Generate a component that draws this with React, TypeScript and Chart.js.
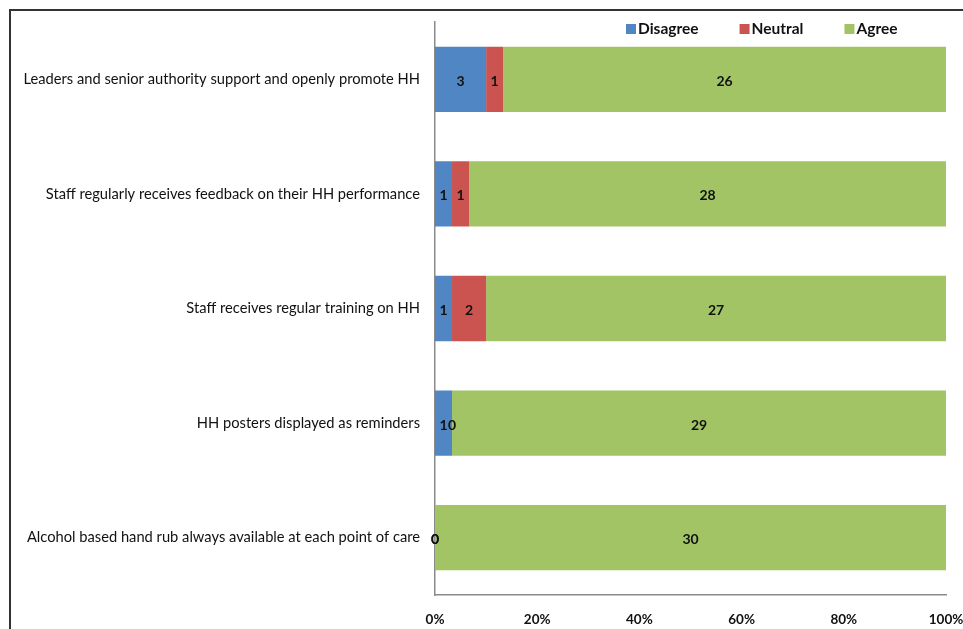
import React, { useEffect, useRef } from "react";
import { Chart, registerables } from "chart.js";

Chart.register(...registerables);

const categories = [
  "Leaders and senior authority support and openly promote HH",
  "Staff regularly receives feedback on their HH performance",
  "Staff receives regular training on HH",
  "HH posters displayed as reminders",
  "Alcohol based hand rub always available at each point of care",
];
const disagree = [3, 1, 1, 1, 0];
const neutral = [1, 1, 2, 0, 0];
const agree = [26, 28, 27, 29, 30];
const seriesNames = ["Disagree", "Neutral", "Agree"];
const seriesColors = ["#5186C5", "#CB5450", "#A2C465"];
const xTicks = [0, 20, 40, 60, 80, 100];

const FONT = "Lato, 'Open Sans', sans-serif";

const toPct = (arr: number[]) =>
  arr.map((v, i) => (100 * v) / (disagree[i] + neutral[i] + agree[i]));

const valueLabels = {
  id: "valueLabels",
  afterDatasetsDraw(chart: any) {
    const ctx = chart.ctx;
    ctx.save();
    ctx.font = `bold 14px ${FONT}`;
    ctx.fillStyle = "#111";
    ctx.textAlign = "center";
    ctx.textBaseline = "middle";
    const raw = [disagree, neutral, agree];
    chart.data.datasets.forEach((ds: any, di: number) => {
      const meta = chart.getDatasetMeta(di);
      meta.data.forEach((bar: any, i: number) => {
        const cx = (bar.x + bar.base) / 2;
        ctx.fillText(String(raw[di][i]), cx, bar.y + 2);
      });
    });
    ctx.restore();
  },
};

const customLegend = {
  id: "customLegend",
  afterDraw(chart: any) {
    const ctx = chart.ctx;
    const area = chart.chartArea;
    ctx.save();
    ctx.font = `bold 15.5px ${FONT}`;
    ctx.textBaseline = "middle";
    ctx.textAlign = "left";
    let x = area.left + 191;
    const y = 18;
    seriesNames.forEach((name, i) => {
      ctx.fillStyle = seriesColors[i];
      ctx.fillRect(x, y - 5, 10, 10);
      ctx.fillStyle = "#111";
      ctx.fillText(name, x + 12, y);
      x += 12 + ctx.measureText(name).width + 41;
    });
    ctx.restore();
  },
};

export default function App() {
  const ref = useRef<HTMLCanvasElement>(null);
  useEffect(() => {
    if (!ref.current) return;
    const chart = new Chart(ref.current, {
      type: "bar",
      data: {
        labels: categories,
        datasets: [
          { label: seriesNames[0], data: toPct(disagree), backgroundColor: seriesColors[0] },
          { label: seriesNames[1], data: toPct(neutral), backgroundColor: seriesColors[1] },
          { label: seriesNames[2], data: toPct(agree), backgroundColor: seriesColors[2] },
        ],
      },
      options: {
        indexAxis: "y",
        animation: false,
        responsive: true,
        maintainAspectRatio: false,
        datasets: { bar: { categoryPercentage: 1, barPercentage: 0.57 } },
        layout: { padding: { top: 11, right: 17, left: 0, bottom: 0 } },
        plugins: { legend: { display: false }, tooltip: { enabled: false } },
        scales: {
          x: {
            stacked: true,
            min: 0,
            max: 100,
            afterBuildTicks: (scale: any) => {
              scale.ticks = xTicks.map((v) => ({ value: v }));
            },
            afterFit: (scale: any) => {
              scale.height = 34;
              scale.paddingLeft = 0;
              scale.paddingRight = 0;
            },
            grid: { display: false, drawTicks: false },
            border: { display: true, color: "#8a8a8a", width: 1.5 },
            ticks: {
              padding: 17,
              color: "#111",
              font: { family: FONT, size: 13.5, weight: "bold" },
              callback: (v: any) => v + "%",
              maxRotation: 0,
            },
          },
          y: {
            stacked: true,
            afterFit: (scale: any) => {
              scale.width = 424;
              scale.paddingTop = 0;
              scale.paddingBottom = 0;
            },
            grid: { display: false, drawTicks: false },
            border: { display: true, color: "#8a8a8a", width: 1.5 },
            ticks: {
              padding: 15,
              color: "#111",
              font: { family: FONT, size: 14.7 },
            },
          },
        },
      },
      plugins: [valueLabels, customLegend],
    });
    return () => chart.destroy();
  }, []);
  return (
    <div
      style={{
        position: "fixed",
        left: 9,
        top: 9,
        width: 954,
        height: 620,
        boxSizing: "border-box",
        borderTop: "2px solid #333",
        borderLeft: "2px solid #333",
        background: "#fff",
      }}
    >
      <div style={{ position: "relative", width: "100%", height: "100%" }}>
        <canvas ref={ref} />
      </div>
    </div>
  );
}
